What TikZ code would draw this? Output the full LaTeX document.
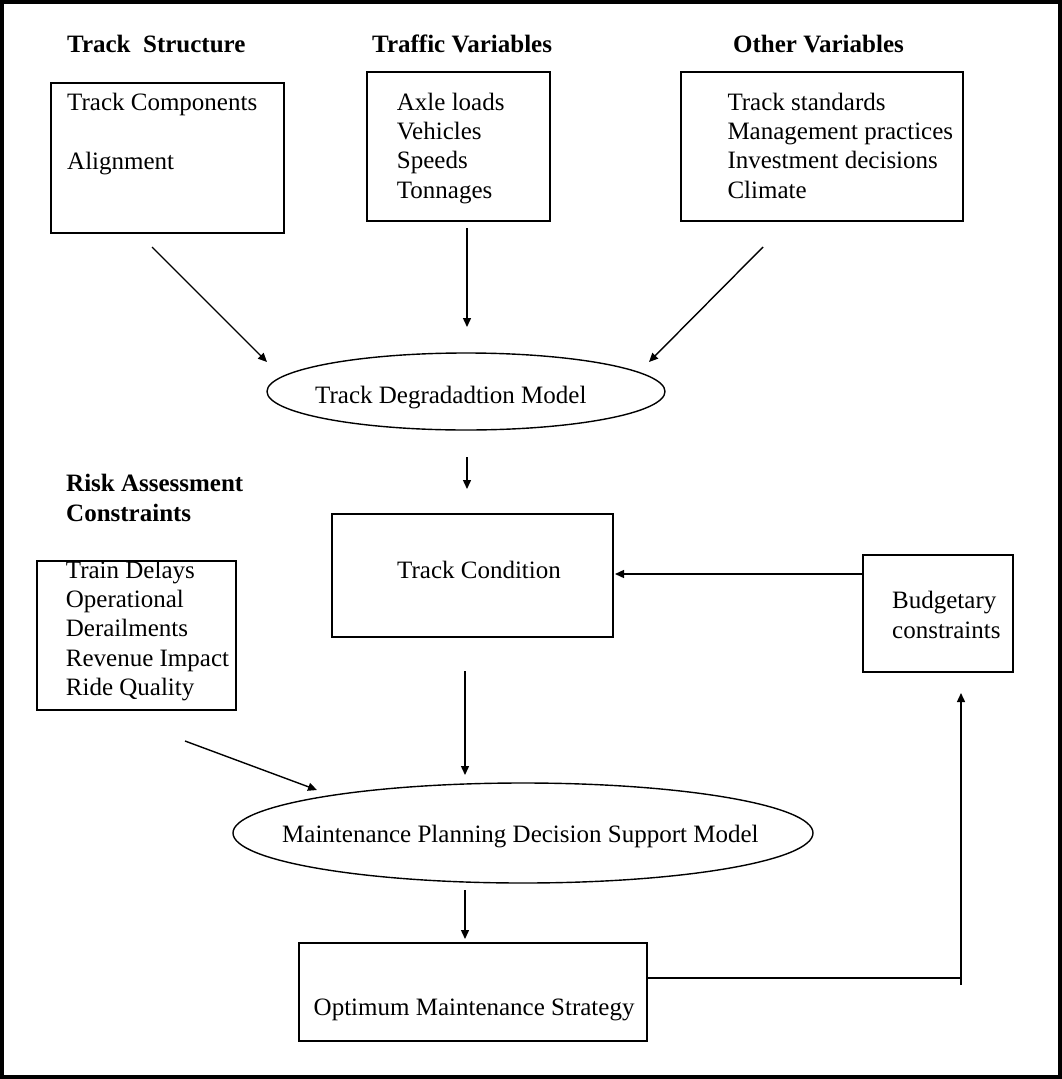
\documentclass[tikz,border=0pt]{standalone}
\usepackage{fontspec}
\setmainfont{Liberation Serif}
\usetikzlibrary{arrows.meta,shapes.geometric}
\begin{document}
\begin{tikzpicture}[x=1pt,y=-1pt,
  boxn/.style={draw,line width=1.4pt,rectangle,inner sep=0pt},
  elln/.style={draw,line width=1.4pt,ellipse,inner sep=0pt},
  txt/.style={anchor=base west,inner sep=0pt,font=\fontsize{25}{29.4}\selectfont},
  hdr/.style={txt,font=\fontsize{25}{29.4}\selectfont\bfseries},
  arr/.style={line width=1.4pt,-{Triangle[length=9pt,width=8pt]}},
  conn/.style={line width=1.4pt}]
\useasboundingbox (0,0) rectangle (1062,1079);
\draw[line width=4pt] (2,2) rectangle (1060,1077);

% headers
\node[hdr] (h1) at (67,52.7) {Track\ \ Structure};
\node[hdr] (h2) at (372,52.7) {Traffic Variables};
\node[hdr] (h3) at (733,52.7) {Other Variables};
\node[hdr] (h4) at (66,491) {Risk Assessment};
\node[hdr] (h5) at (66,521) {Constraints};

% boxes
\node[boxn,minimum width=233pt,minimum height=150pt] (ts) at (167.5,158) {};
\node[boxn,minimum width=183pt,minimum height=149pt] (tv) at (458.5,146.5) {};
\node[boxn,minimum width=282pt,minimum height=149pt] (ov) at (822,146.5) {};
\node[elln,minimum width=398pt,minimum height=77pt] (tdm) at (466,391.5) {};
\node[boxn,minimum width=281pt,minimum height=123pt] (tc) at (472.5,575.5) {};
\node[boxn,minimum width=150pt,minimum height=117pt] (bc) at (938,613.5) {};
\node[boxn,minimum width=199pt,minimum height=149pt] (ra) at (136.5,635.5) {};
\node[elln,minimum width=580pt,minimum height=100pt] (mp) at (523,833) {};
\node[boxn,minimum width=348pt,minimum height=98pt] (oms) at (473,992) {};

% texts
\node[txt] (ts1) at (67,110) {Track Components};
\node[txt] (ts2) at (67,169) {Alignment};
\foreach \t [count=\i] in {Axle loads,Vehicles,Speeds,Tonnages}
  \node[txt] (tv\i) at (396.7,{110+29.4*(\i-1)}) {\t};
\foreach \t [count=\i] in {Track standards,Management practices,Investment decisions,Climate}
  \node[txt] (ov\i) at (727.3,{110+29.4*(\i-1)}) {\t};
\node[txt] (tdmt) at (315,403) {Track Degradadtion Model};
\node[txt] (tct) at (397,578) {Track Condition};
\node[txt] (bc1) at (892,608) {Budgetary};
\node[txt] (bc2) at (892,638) {constraints};
\foreach \t [count=\i] in {Train Delays,Operational,Derailments,Revenue Impact,Ride Quality}
  \node[txt] (ra\i) at (65.7,{578+29.4*(\i-1)}) {\t};
\node[txt] (mpt) at (282,842) {Maintenance Planning Decision Support Model};
\node[txt] (omst) at (313.5,1015) {Optimum Maintenance Strategy};

% connector end points
\coordinate (a1s) at (152,247);  \coordinate (a1e) at (267,362);
\coordinate (a2s) at (467,228);  \coordinate (a2e) at (467,327);
\coordinate (a3s) at (763,247);  \coordinate (a3e) at (649,362);
\coordinate (a4s) at (467,457);  \coordinate (a4e) at (467,489);
\coordinate (a5s) at (863,574);  \coordinate (a5e) at (615,574);
\coordinate (a6s) at (465,671);  \coordinate (a6e) at (465,775);
\coordinate (a7s) at (185,741);  \coordinate (a7e) at (317,790);
\coordinate (a8s) at (465,890);  \coordinate (a8e) at (465,939);
\coordinate (a9s) at (647,978);  \coordinate (a9c) at (961,978);
\coordinate (a9b) at (961,985);  \coordinate (a9e) at (961,693);

\draw[arr] (a1s) -- (a1e);
\draw[arr] (a2s) -- (a2e);
\draw[arr] (a3s) -- (a3e);
\draw[arr] (a4s) -- (a4e);
\draw[arr] (a5s) -- (a5e);
\draw[arr] (a6s) -- (a6e);
\draw[arr] (a7s) -- (a7e);
\draw[arr] (a8s) -- (a8e);
\draw[line width=2.2pt] (a9s) -- (a9c);
\draw[arr] (a9b) -- (a9e);
\end{tikzpicture}
\end{document}
